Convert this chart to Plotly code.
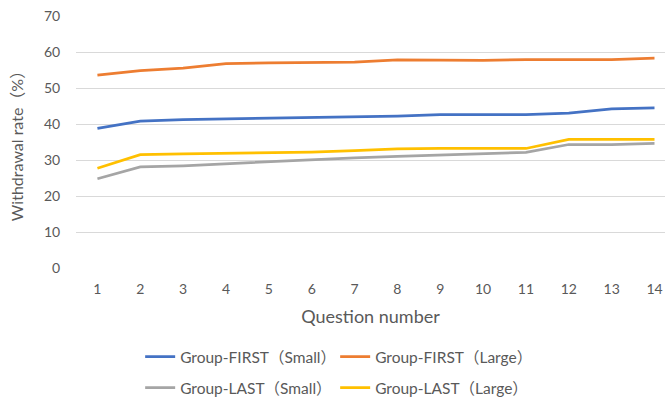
import plotly.graph_objects as go

questions = list(range(1, 15))
first_small = [38.8, 40.8, 41.2, 41.4, 41.4, 41.6, 41.9, 42.2, 42.6, 42.6, 42.6, 43.0, 44.2, 44.5]
first_large = [53.6, 54.8, 55.5, 56.8, 57.0, 57.0, 57.2, 57.8, 57.7, 57.7, 57.9, 57.9, 57.9, 58.3]
last_small = [24.8, 28.1, 28.4, 29.0, 29.6, 30.2, 30.6, 31.0, 31.4, 31.8, 32.1, 34.3, 34.3, 34.6]
last_large = [27.7, 31.5, 31.7, 31.8, 32.1, 32.2, 32.6, 33.1, 33.2, 33.2, 33.2, 35.7, 35.7, 35.7]

series = [
    ("Group-FIRST（Small）", first_small, "#4472C4", "legend"),
    ("Group-FIRST（Large）", first_large, "#ED7D31", "legend"),
    ("Group-LAST（Small）", last_small, "#A5A5A5", "legend2"),
    ("Group-LAST（Large）", last_large, "#FFC000", "legend2"),
]

FONT = "Lato, 'Noto Sans CJK JP', sans-serif"
TXT = "#595959"

fig = go.Figure()
for name, vals, color, lg in series:
    fig.add_trace(go.Scatter(x=questions, y=vals, mode="lines", name=name,
                             line=dict(color=color, width=2.75), legend=lg))

legend_common = dict(orientation="h", x=0.504, xref="container", xanchor="center",
                     yanchor="middle", font=dict(family=FONT, size=15.5, color=TXT),
                     entrywidth=150, itemwidth=30, bgcolor="rgba(0,0,0,0)")

fig.update_layout(
    width=665, height=403,
    margin=dict(l=76, r=0, t=16, b=135, autoexpand=False),
    plot_bgcolor="white", paper_bgcolor="white",
    font=dict(family=FONT, color=TXT, size=13),
    xaxis=dict(range=[0.5, 14.245], tickmode="array", tickvals=questions,
               ticktext=[str(q) for q in questions], showgrid=False, zeroline=False,
               showline=False, ticks="outside", ticklen=8, tickcolor="white",
               tickfont=dict(size=14, color=TXT), automargin=False,
               title=dict(text="Question number", font=dict(size=18, color=TXT), standoff=14)),
    yaxis=dict(range=[0, 70], tickvals=[0, 10, 20, 30, 40, 50, 60, 70], showgrid=True,
               gridcolor="#D9D9D9", gridwidth=1, zeroline=False, showline=False,
               ticks="outside", ticklen=12, tickcolor="white", automargin=False,
               tickfont=dict(size=14, color=TXT),
               title=dict(text="Withdrawal rate（%）", font=dict(size=16, color=TXT), standoff=16)),
    legend=dict(y=-0.353, **legend_common),
    legend2=dict(y=-0.476, **legend_common),
)

fig.write_html("out.html", config={"displayModeBar": False},
               post_script="document.body.style.margin='0';document.body.style.padding='0';")
